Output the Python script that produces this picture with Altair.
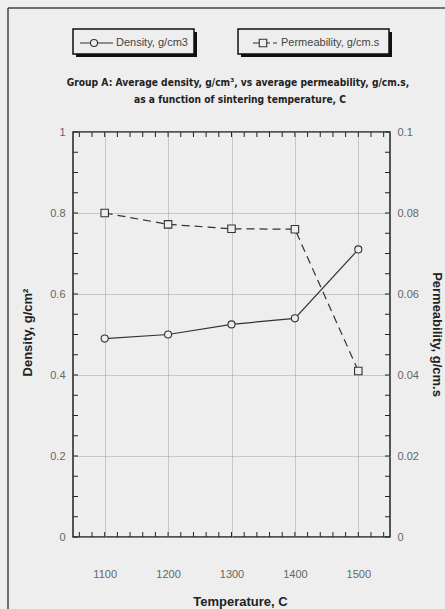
import altair as alt
import pandas as pd

# ---- data ----
temps = [1100, 1200, 1300, 1400, 1500]
density = [0.49, 0.50, 0.525, 0.54, 0.71]
permeability = [0.080, 0.0772, 0.0761, 0.0760, 0.041]

x_major = [1100, 1200, 1300, 1400, 1500]
x_minor = [1060, 1080, 1100, 1120, 1140, 1160, 1180, 1200, 1220, 1240, 1260, 1280,
           1300, 1320, 1340, 1360, 1380, 1400, 1420, 1440, 1460, 1480, 1500, 1520, 1540]
y_left_major = [0, 0.2, 0.4, 0.6, 0.8, 1]
y_right_major = [0, 0.02, 0.04, 0.06, 0.08, 0.1]
y_minor = [0, 0.05, 0.1, 0.15, 0.2, 0.25, 0.3, 0.35, 0.4, 0.45, 0.5, 0.55, 0.6, 0.65,
           0.7, 0.75, 0.8, 0.85, 0.9, 0.95, 1]

title_lines = ["Group A: Average density, g/cm³, vs average permeability, g/cm.s,",
               "as a function of sintering temperature, C"]
legend_labels = ["Density, g/cm3", "Permeability, g/cm.s"]

# ---- layout ----
W, H = 317, 405
PL, PT, PR, PB = 73, 132, 55, 72
BG = "#eeeeee"
INK = "#333333"
FONT = "Liberation Sans"
NARROW = "Liberation Sans Narrow, DejaVu Sans Condensed, Liberation Sans"

df = pd.DataFrame({"temp": temps, "density": density, "perm": permeability})
xt = pd.DataFrame({"temp": x_minor})
yt = pd.DataFrame({"yv": y_minor})
one = alt.Data(values=[{"k": 1}])

xscale = alt.Scale(domain=[1050, 1550], nice=False, zero=False)
yscale_d = alt.Scale(domain=[0, 1], nice=False, zero=False)
yscale_p = alt.Scale(domain=[0, 0.1], nice=False, zero=False)

xaxis = alt.Axis(values=x_major, format="d", title="Temperature, C",
                 grid=True, gridColor="#a0a0a0", gridDash=[1, 1], gridWidth=1,
                 ticks=False, domain=False, labelPadding=31, labelFontSize=11,
                 labelColor="#666666", labelFont=FONT,
                 titleFont=FONT, titleFontSize=13, titleFontWeight="bold", titleColor="#222222",
                 titleX=167, titleY=64, titleBaseline="middle", titleAlign="center")

left_axis = alt.Axis(values=y_left_major, format="~g", title="Density, g/cm²",
                     grid=True, gridColor="#a0a0a0", gridDash=[1, 1], gridWidth=1,
                     ticks=False, domain=False, labelPadding=8, labelFontSize=11,
                     labelColor="#666666", labelFont=FONT,
                     titleFont=FONT, titleFontSize=13, titleFontWeight="bold", titleColor="#222222",
                     titleAngle=270, titleX=-46, titleY=200, titleBaseline="middle", titleAlign="center")

right_axis = alt.Axis(orient="right", values=y_right_major, format="~g",
                      title="Permeability, g/cm.s",
                      grid=False, ticks=False, domain=False, labelPadding=7, labelFontSize=11,
                      labelColor="#666666", labelFont=FONT,
                      titleFont=FONT, titleFontSize=13, titleFontWeight="bold", titleColor="#222222",
                      titleAngle=90, titleX=46, titleY=202, titleBaseline="middle", titleAlign="center")

X = alt.X("temp:Q", scale=xscale, axis=xaxis)

dens = alt.layer(
    alt.Chart(df).mark_line(color=INK, strokeWidth=1.2).encode(
        x=X, y=alt.Y("density:Q", scale=yscale_d, axis=left_axis)),
    alt.Chart(df).mark_point(shape="circle", size=50, filled=False, fill=BG, fillOpacity=1,
                             stroke=INK, strokeWidth=1.1, opacity=1).encode(
        x=X, y=alt.Y("density:Q", scale=yscale_d, axis=left_axis)),
)

perm = alt.layer(
    alt.Chart(df).mark_line(color=INK, strokeWidth=1.2, strokeDash=[8, 5]).encode(
        x=X, y=alt.Y("perm:Q", scale=yscale_p, axis=right_axis)),
    alt.Chart(df).mark_point(shape="square", size=56, filled=False, fill=BG, fillOpacity=1,
                             stroke=INK, strokeWidth=1.1, opacity=1).encode(
        x=X, y=alt.Y("perm:Q", scale=yscale_p, axis=right_axis)),
)

# inward minor ticks on all four sides
tick_bottom = alt.Chart(xt).mark_rule(color="#222222", strokeWidth=1).encode(
    x=X, y=alt.value(H), y2=alt.value(H - 5))
tick_top = alt.Chart(xt).mark_rule(color="#222222", strokeWidth=1).encode(
    x=X, y=alt.value(0), y2=alt.value(5))
tick_left = alt.Chart(yt).mark_rule(color="#222222", strokeWidth=1).encode(
    y=alt.Y("yv:Q", scale=yscale_d, axis=None), x=alt.value(0), x2=alt.value(5))
tick_right = alt.Chart(yt).mark_rule(color="#222222", strokeWidth=1).encode(
    y=alt.Y("yv:Q", scale=yscale_d, axis=None), x=alt.value(W), x2=alt.value(W - 5))

# outer frame (top and left edges)
frame_top = alt.Chart(one).mark_rule(color="#444444", strokeWidth=1.5).encode(
    x=alt.value(8 - PL), x2=alt.value(445 - PL), y=alt.value(8 - PT))
frame_left = alt.Chart(one).mark_rule(color="#444444", strokeWidth=1.5).encode(
    x=alt.value(8 - PL), y=alt.value(8 - PT), y2=alt.value(609 - PT))

# legend boxes with drop shadow
def box(x0, x1, y0, y1):
    shadow = alt.Chart(one).mark_rect(color="#111111").encode(
        x=alt.value(x0 + 3 - PL), x2=alt.value(x1 + 3 - PL),
        y=alt.value(y0 + 3 - PT), y2=alt.value(y1 + 3 - PT))
    main = alt.Chart(one).mark_rect(fill=BG, stroke="#111111", strokeWidth=1.5).encode(
        x=alt.value(x0 - PL), x2=alt.value(x1 - PL),
        y=alt.value(y0 - PT), y2=alt.value(y1 - PT))
    return [shadow, main]

LY = 43 - PT
leg = box(73, 194, 29, 54) + box(238, 389, 29, 54)
leg += [
    alt.Chart(one).mark_rule(color=INK, strokeWidth=1.2).encode(
        x=alt.value(80 - PL), x2=alt.value(113 - PL), y=alt.value(LY)),
    alt.Chart(one).mark_point(shape="circle", size=50, filled=False, fill=BG, fillOpacity=1,
                              stroke=INK, strokeWidth=1.1, opacity=1).encode(
        x=alt.value(94 - PL), y=alt.value(LY)),
    alt.Chart(one).mark_text(align="left", baseline="middle", font=FONT, fontSize=11,
                             color="#444444").encode(
        x=alt.value(116 - PL), y=alt.value(LY), text=alt.value(legend_labels[0])),
    alt.Chart(one).mark_rule(color=INK, strokeWidth=1.2, strokeDash=[7, 3]).encode(
        x=alt.value(253 - PL), x2=alt.value(277 - PL), y=alt.value(LY)),
    alt.Chart(one).mark_point(shape="square", size=56, filled=False, fill=BG, fillOpacity=1,
                              stroke=INK, strokeWidth=1.1, opacity=1).encode(
        x=alt.value(263 - PL), y=alt.value(LY)),
    alt.Chart(one).mark_text(align="left", baseline="middle", font=FONT, fontSize=11,
                             color="#444444").encode(
        x=alt.value(281 - PL), y=alt.value(LY), text=alt.value(legend_labels[1])),
]

titles = [
    alt.Chart(one).mark_text(align="center", baseline="middle", font=NARROW, fontSize=10.2,
                             fontWeight="bold", color="#222222").encode(
        x=alt.value(238 - PL), y=alt.value(83 - PT), text=alt.value(title_lines[0])),
    alt.Chart(one).mark_text(align="center", baseline="middle", font=NARROW, fontSize=10.2,
                             fontWeight="bold", color="#222222").encode(
        x=alt.value(240 - PL), y=alt.value(100 - PT), text=alt.value(title_lines[1])),
]

chart = alt.layer(
    dens, perm, tick_bottom, tick_top, tick_left, tick_right,
    frame_top, frame_left, *leg, *titles
).resolve_scale(y="independent").properties(
    width=W, height=H, autosize="none",
    padding={"left": PL, "top": PT, "right": PR, "bottom": PB},
    background=BG,
).configure_view(stroke="#222222", strokeWidth=1.5)

chart.save("out.html", embed_options={"renderer": "svg", "actions": False})
